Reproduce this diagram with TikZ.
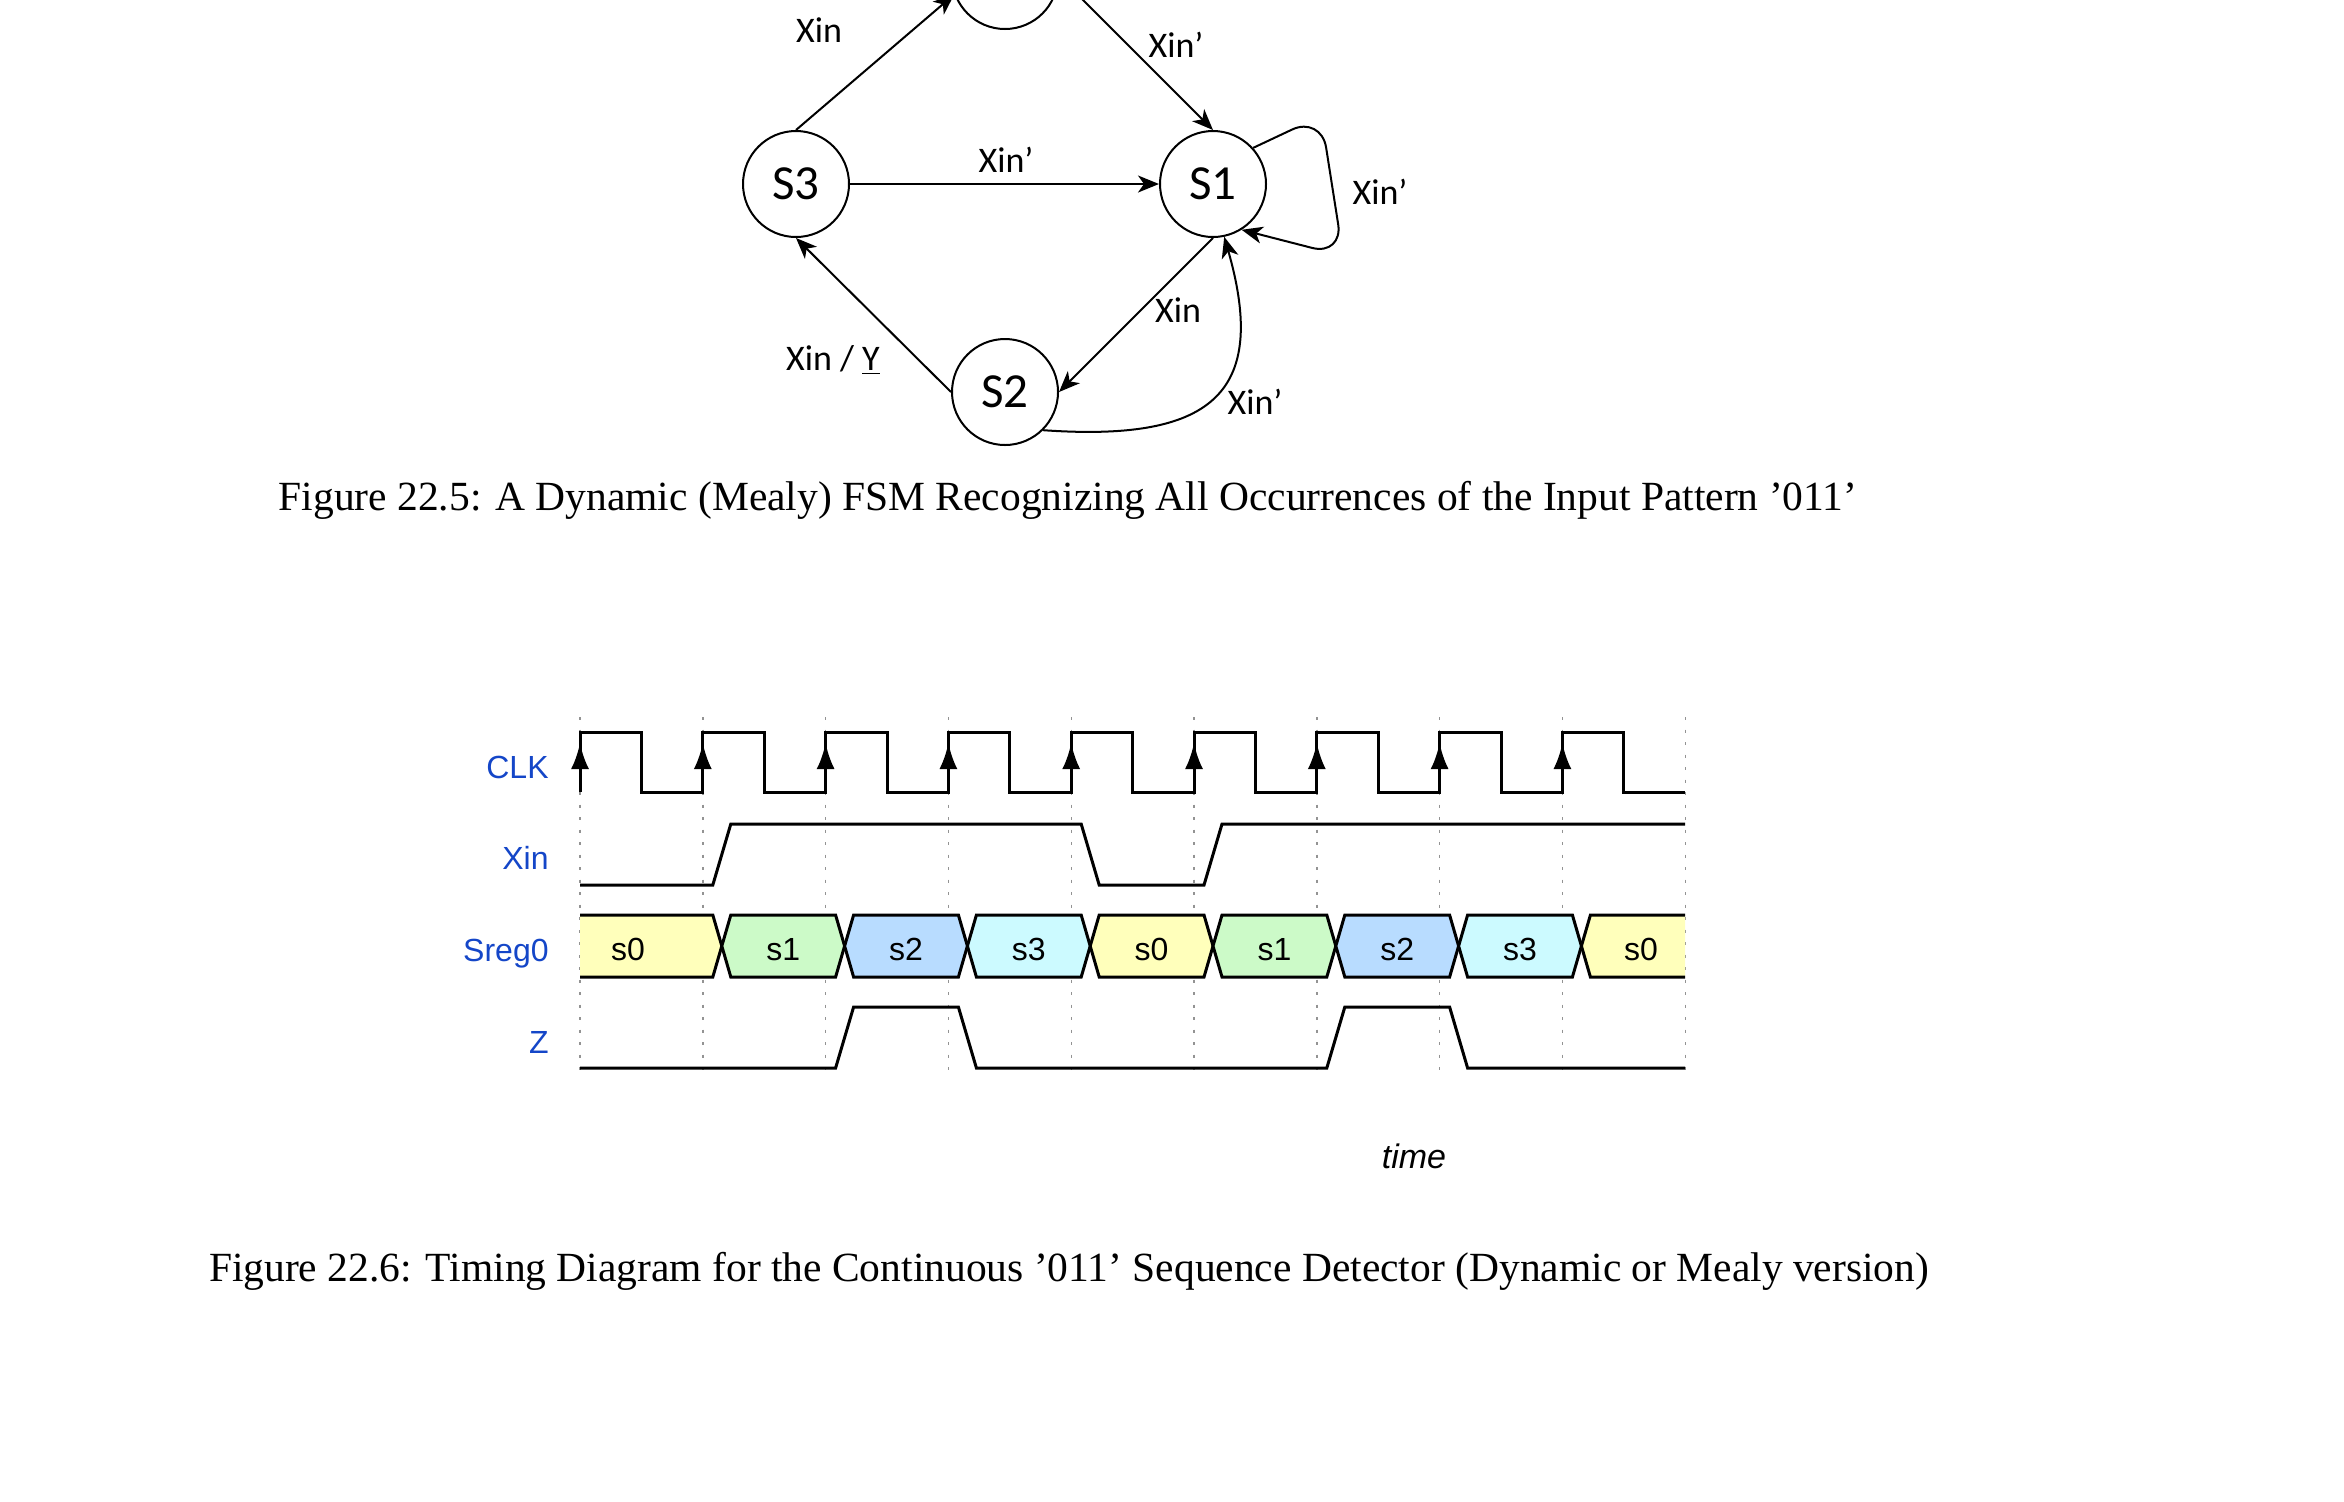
\documentclass[tikz,border=0pt]{standalone}
\usepackage{fontspec}
\setmainfont{Liberation Serif}
\newfontfamily\fsmfont{Carlito}
\newfontfamily\tdfont{Liberation Sans}
\usetikzlibrary{arrows.meta}

\definecolor{sigblue}{RGB}{20,70,200}
\definecolor{stzero}{RGB}{255,255,187}
\definecolor{stone}{RGB}{204,250,200}
\definecolor{sttwo}{RGB}{184,220,255}
\definecolor{stthree}{RGB}{204,250,255}

\tikzset{
	state/.style={draw, circle, line width=1pt, minimum size=53pt, inner sep=0pt, font=\fsmfont\fontsize{24.5}{24.5}\selectfont},
	trans/.style={line width=1pt, -{Stealth[length=10.5pt,width=8.5pt,inset=3pt]}},
	tlabel/.style={font=\fsmfont\fontsize{18}{18}\selectfont},
	wave/.style={line width=1.5pt, line join=miter},
	clkarrow/.style={line width=1.5pt, -{Latex[length=13pt,width=9pt]}},
	tickline/.style={gray!85, line width=0.7pt, dash pattern=on 1.5pt off 4.75pt},
	sig/.style={font=\tdfont\fontsize{16}{16}\selectfont, text=sigblue, anchor=base east, inner sep=0pt},
	stxt/.style={font=\tdfont\fontsize{16}{16}\selectfont, anchor=base},
	caption/.style={font=\fontsize{20.75}{20.75}\selectfont, anchor=base},
}

\def\per{122.8}

\begin{document}
\begin{tikzpicture}[x=0.5pt,y=-0.5pt]
			\useasboundingbox (0,0) rectangle (2344,1501);
			\clip (0,0) rectangle (2344,1501);
			
			%%%%% FSM %%%%%
			
			\node[state] (S0) at (1005,-24) {};
			\node[state] (S3) at (796,184) {S3};
			\node[state] (S1) at (1213,184) {S1};
			\node[state] (S2) at (1005,392) {S2};
			
			\draw[trans] (S3.north) -- (S0.200);
			\draw[trans] (S0.east) -- (S1.north);
			\draw[trans] (S3.east) -- (S1.west);
			\draw[trans] (S1.south) -- (S2.east);
			\draw[trans] (S2.west) -- (S3.south);
			\draw[trans] (S2.-45) to[out=-4,in=-74,looseness=1.6] (S1.-78);
			\draw[trans, rounded corners=16pt] (S1.42) -- ++(68,-32) -- ++(22,140) -- (S1.-58);
			
			\node[tlabel] (l30) at (819,30) {Xin};
			\node[tlabel] (l01) at (1176,45) {Xin’};
			\node[tlabel] (l31) at (1006,160) {Xin’};
			\node[tlabel] (l11) at (1380,192) {Xin’};
			\node[tlabel] (l12) at (1178,310) {Xin};
			\node[tlabel] (l21) at (1255,402) {Xin’};
			\node[tlabel] (l23) at (833,360) {Xin / \underline{Y}};
			
			\node[caption] (cap1) at (1068,510) {Figure 22.5: A Dynamic (Mealy) FSM Recognizing All Occurrences of the Input Pattern ’011’};
			
			%%%%% TIMING %%%%%
			
			% dotted clock lines
			\foreach \i in {0,...,9}
				\draw[tickline] ({580+\i*\per},717) -- ({580+\i*\per},1075);
			
			% state boxes
			\fill[stzero] (580,915) -- (712.8,915) -- (721.8,946) -- (712.8,977) -- (580,977) -- cycle;
			\draw[wave] (580,915) -- (712.8,915) -- (721.8,946) -- (712.8,977) -- (580,977);
			\node[stxt] (st0) at (628,960) {s0};
			\foreach \k/\s/\c in {1/s1/stone, 2/s2/sttwo, 3/s3/stthree, 4/s0/stzero, 5/s1/stone, 6/s2/sttwo, 7/s3/stthree} {
				\pgfmathsetmacro\xa{599+\k*\per}
				\pgfmathsetmacro\xb{\xa+\per}
				\draw[wave, fill=\c] (\xa,946) -- (\xa+9,915) -- (\xb-9,915) -- (\xb,946) -- (\xb-9,977) -- (\xa+9,977) -- cycle;
				\node[stxt] (st\k) at ({\xa+61.4},960) {\s};
			}
			\fill[stzero] (1685.2,915) -- (1590.4,915) -- (1581.4,946) -- (1590.4,977) -- (1685.2,977) -- cycle;
			\draw[wave] (1685.2,915) -- (1590.4,915) -- (1581.4,946) -- (1590.4,977) -- (1685.2,977);
			\node[stxt] (st8) at (1641,960) {s0};
			
			% CLK
			\draw[wave] (580,792) \foreach \i in {0,...,8} { -- ({580+\i*\per},732) -- ({580+\i*\per+61.4},732) -- ({580+\i*\per+61.4},792) -- ({580+(\i+1)*\per},792) };
			\foreach \i in {0,...,8}
				\draw[clkarrow] ({580+\i*\per},792) -- ({580+\i*\per},743);
			
			% Xin
			\draw[wave] (580,885) -- (712.8,885) -- (730.8,824) -- (1081.2,824) -- (1099.2,885) -- (1204,885) -- (1222,824) -- (1685.2,824);
			
			% Z
			\draw[wave] (580,1068) -- (835.6,1068) -- (853.6,1007) -- (958.4,1007) -- (976.4,1068) -- (1326.8,1068) -- (1344.8,1007) -- (1449.6,1007) -- (1467.6,1068) -- (1685.2,1068);
			
			\node[sig] (lclk) at (549,778) {CLK};
			\node[sig] (lxin) at (549,869) {Xin};
			\node[sig] (lsreg) at (549,961) {Sreg0};
			\node[sig] (lz) at (549,1053) {Z};
			
			\node[font=\tdfont\itshape\fontsize{17}{17}\selectfont] (ltime) at (1414,1156) {time};
			
			\node[caption] (cap2) at (1069,1281) {Figure 22.6: Timing Diagram for the Continuous ’011’ Sequence Detector (Dynamic or Mealy version)};
			
			%%%%% END %%%%%
		\end{tikzpicture}
\end{document}
